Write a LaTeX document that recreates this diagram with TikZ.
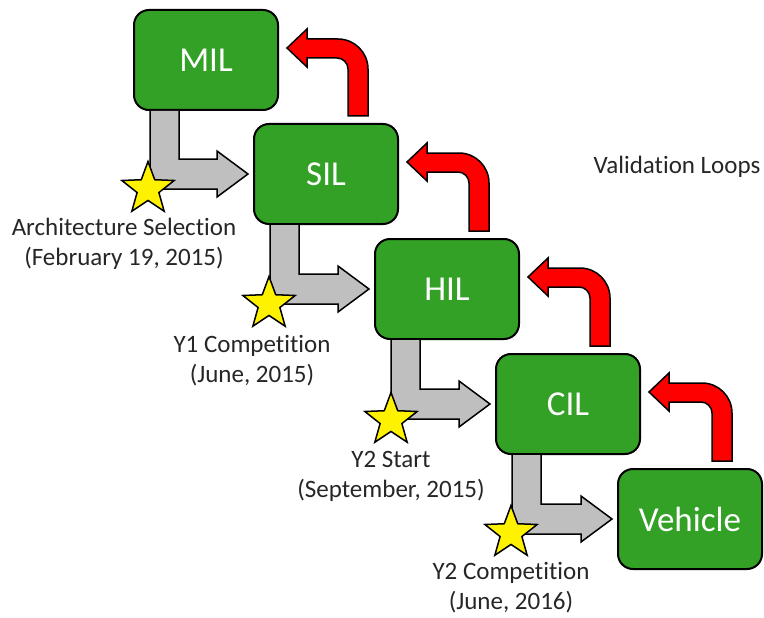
\documentclass[tikz,border=0pt]{standalone}
\usepackage{fontspec}
\setmainfont{Carlito}[Ligatures=NoCommon,Contextuals=NoAlternate]
\usetikzlibrary{shapes.geometric,calc}
\definecolor{stagegreen}{RGB}{51,161,38}
\definecolor{flowgray}{RGB}{191,191,191}
\newcommand{\drawstage}{\node[draw=black,line width=2pt,fill=stagegreen,rounded corners=15pt,minimum width=144pt,minimum height=100pt,text=white,font=\fontsize{35}{40}\selectfont]}
\newcommand{\drawstar}{\node[star,star points=5,star point ratio=2.4,draw=black,line width=1.5pt,fill=yellow,minimum size=55pt,inner sep=0]}
\newcommand{\drawnote}{\node[align=center,text=black!85,font=\fontsize{25}{30}\selectfont]}
% gray forward arrow from the bottom of #1 to the left side of #2
\newcommand{\flowarrow}[2]{%
\filldraw[fill=flowgray,draw=black,line width=1.5pt,line join=miter]
  let \p1=(#1.south west), \p2=(#2.west) in
  (\x1+17pt,\y1) -- (\x1+17pt,\y2-15pt) -- (\x2-36pt,\y2-15pt) -- (\x2-36pt,\y2-23pt)
  -- (\x2-5pt,\y2) -- (\x2-36pt,\y2+23pt) -- (\x2-36pt,\y2+15pt) -- (\x1+46pt,\y2+15pt)
  -- (\x1+46pt,\y1);}
% red loop arrow from the top of #1 back to the right side of #2
\newcommand{\backarrow}[2]{%
\filldraw[fill=red,draw=black,line width=1.5pt,line join=miter]
  let \p1=(#1.north west), \p2=(#2.north east) in
  (\x1+95pt,\y1+7pt) -- (\x1+95pt,\y2-60pt) arc[start angle=0,end angle=90,radius=11pt]
  -- (\x2+28pt,\y2-49pt) -- (\x2+28pt,\y2-58pt) -- (\x2+8pt,\y2-39pt)
  -- (\x2+28pt,\y2-20pt) -- (\x2+28pt,\y2-30pt) -- (\x1+85pt,\y2-30pt)
  arc[start angle=90,end angle=0,radius=30pt] -- (\x1+115pt,\y1+7pt) -- cycle;}

\begin{document}
\begin{tikzpicture}[x=1pt,y=1pt]
\useasboundingbox (0,0) rectangle (764,-618);
%stages of the loop
\drawstage (mil) at (206,-60) {MIL};
\drawstage (sil) at (326,-174) {SIL};
\drawstage (hil) at (447,-289) {HIL};
\drawstage (cil) at (568,-404) {CIL};
\drawstage (veh) at (690,-519) {Vehicle};

%forward flow
\flowarrow{mil}{sil}
\flowarrow{sil}{hil}
\flowarrow{hil}{cil}
\flowarrow{cil}{veh}

%validation loops
\backarrow{sil}{mil}
\backarrow{hil}{sil}
\backarrow{cil}{hil}
\backarrow{veh}{cil}
\drawnote (loops) at (677,-167) {Validation Loops};

%milestones
\drawstar (s1) at (148,-189) {};
\drawstar (s2) at (269,-304) {};
\drawstar (s3) at (391,-420) {};
\drawstar (s4) at (511,-533) {};
\drawnote (n1) at (124,-244) {Architecture Selection\\(February 19, 2015)};
\drawnote (n2) at (252,-361) {Y1 Competition\\(June, 2015)};
\drawnote (n3) at (391,-476) {Y2 Start\\(September, 2015)};
\drawnote (n4) at (511,-588) {Y2 Competition\\(June, 2016)};
\end{tikzpicture}
\end{document}
